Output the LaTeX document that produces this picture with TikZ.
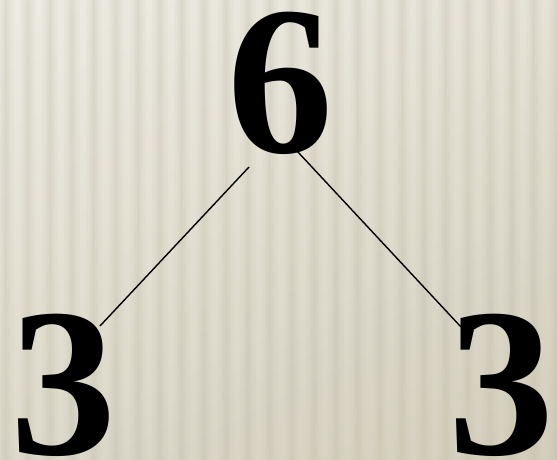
\documentclass[tikz,border=0pt]{standalone}
\usepackage{fontspec}
\setmainfont{Liberation Serif}
\usetikzlibrary{shadings}
\definecolor{bglight}{HTML}{EDEBE2}
\definecolor{bgdark}{HTML}{D3CEBC}
\definecolor{stripe}{HTML}{BDB8A2}
\begin{document}
\begin{tikzpicture}[x=1pt,y=1pt,
  digit/.style={inner sep=0pt,anchor=base,font=\fontsize{212}{212}\selectfont\bfseries},
  link/.style={line width=1.4pt,black}]
\useasboundingbox (0,0) rectangle (557,460);
\clip (0,0) rectangle (557,460);
\shade[upper left=bglight,lower right=bgdark,upper right=bglight!70!bgdark,lower left=bglight!40!bgdark] (0,0) rectangle (557,460);
\foreach \i in {0,...,26}{
  \fill[stripe,opacity=0.07] (\i*22-2,0) rectangle (\i*22+14,460);
  \fill[stripe,opacity=0.08] (\i*22+1,0) rectangle (\i*22+11,460);
  \fill[stripe,opacity=0.09] (\i*22+3,0) rectangle (\i*22+9,460);
  \fill[stripe,opacity=0.09] (\i*22+5,0) rectangle (\i*22+7,460);
}
\node[digit] (six) at (280.5,307) {6};
\node[digit] (threeL) at (63.5,5) {3};
\node[digit] (threeR) at (501.5,5) {3};
\coordinate (sixL) at (249,293);
\coordinate (sixR) at (297,309);
\coordinate (tL) at (100,134);
\coordinate (tR) at (461,133);
\draw[link] (sixL) -- (tL);
\draw[link] (sixR) -- (tR);
\end{tikzpicture}
\end{document}
